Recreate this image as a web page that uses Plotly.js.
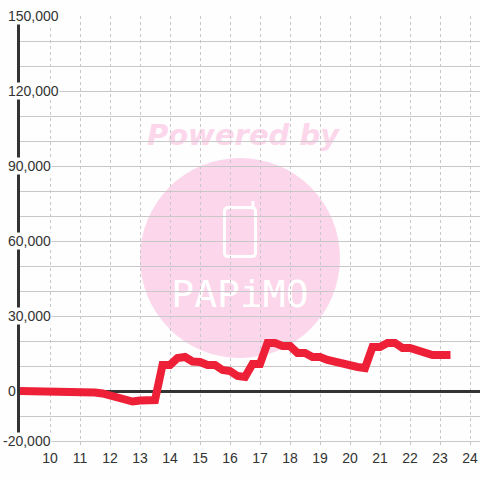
<!DOCTYPE html>
<html>
<head>
<meta charset="utf-8">
<script src="https://cdn.plot.ly/plotly-3.0.1.min.js"></script>
<style>
html,body{margin:0;padding:0;background:#fdfefd;}
#chart{width:480px;height:480px;}
</style>
</head>
<body>
<div id="chart"></div>
<script>
// ---- data ----
const hours = [9,9.25,9.5,9.75,10,10.25,10.5,10.75,11,11.25,11.5,11.75,12,12.25,12.5,12.75,13,13.25,13.5,13.75,14,14.25,14.5,14.75,15,15.25,15.5,15.75,16,16.25,16.5,16.75,17,17.25,17.5,17.75,18,18.25,18.5,18.75,19,19.25,19.5,19.75,20,20.25,20.5,20.75,21,21.25,21.5,21.75,22,22.25,22.5,22.75,23,23.35];
const balance = [0,0,0,0,0,0,0,0,0,-300,-600,-1000,-1800,-2400,-2800,-4200,-3800,-3600,-3600,10400,10400,13200,13600,11800,11600,10400,10400,8400,8000,6000,5600,10800,10800,19200,19200,18000,18000,15200,15200,13600,13600,12400,11600,10400,10000,9600,9200,17600,17600,19200,19200,17200,17200,16000,15600,14400,14400,14400];
const xTickVals = [10,11,12,13,14,15,16,17,18,19,20,21,22,23,24];
const xTickText = ['10','11','12','13','14','15','16','17','18','19','20','21','22','23','24'];
const yTickVals = [150000,120000,90000,60000,30000,0,-20000];
const yTickText = ['150,000','120,000','90,000','60,000','30,000','0','-20,000'];
const watermarkTitle = 'Powered by';
const watermarkBrand = 'PAPiMO';

// ---- layout helpers (pixel -> paper) ----
const BG = '#fdfefd';
const L = 20, R = 480, T = 16, B = 448;
const px = x => (x - L) / (R - L);
const py = y => (B - y) / (B - T);
const INK = '#333333';
const FONT = 'Liberation Sans, Arial, sans-serif';

function roundRectPath(x0, y0, x1, y1, r) {
  const p = (x, y) => px(x) + ',' + py(y);
  return 'M' + p(x0 + r, y0) + ' L' + p(x1 - r, y0) + ' Q' + p(x1, y0) + ' ' + p(x1, y0 + r) +
    ' L' + p(x1, y1 - r) + ' Q' + p(x1, y1) + ' ' + p(x1 - r, y1) +
    ' L' + p(x0 + r, y1) + ' Q' + p(x0, y1) + ' ' + p(x0, y1 - r) +
    ' L' + p(x0, y0 + r) + ' Q' + p(x0, y0) + ' ' + p(x0 + r, y0) + ' Z';
}

const trace = {
  x: hours,
  y: balance,
  type: 'scatter',
  mode: 'lines',
  line: {color: '#ee2037', width: 8},
  hoverinfo: 'skip'
};

const annotations = yTickVals.map((v, i) => ({
  xref: 'paper', x: 0, xanchor: 'left',
  xshift: yTickText[i].startsWith('-') ? -18 : -13,
  yref: 'y', y: v, yanchor: 'middle',
  text: yTickText[i], showarrow: false,
  bgcolor: BG, borderpad: 0,
  font: {family: FONT, size: 14, color: INK}
}));

const shapes = [
  {type: 'circle', xref: 'paper', yref: 'paper', layer: 'below',
   x0: px(140), x1: px(340), y0: py(358), y1: py(158),
   fillcolor: '#fcd6eb', line: {width: 0}},
  {type: 'rect', xref: 'paper', yref: 'paper', layer: 'below',
   x0: px(133), x1: px(353), y0: py(150), y1: py(116),
   fillcolor: 'rgba(0,0,0,0)', line: {width: 0},
   label: {text: watermarkTitle, textposition: 'middle center',
     font: {family: 'DejaVu Sans', size: 29, color: '#fcd6eb', weight: 'bold', style: 'italic'}}},
  {type: 'path', xref: 'paper', yref: 'paper', layer: 'below',
   path: roundRectPath(224.5, 207.5, 255.5, 256.5, 4),
   fillcolor: 'rgba(0,0,0,0)', line: {color: '#ffffff', width: 3}},
  {type: 'path', xref: 'paper', yref: 'paper', layer: 'below',
   path: 'M' + px(253) + ',' + py(209) + ' L' + px(253) + ',' + py(201),
   line: {color: '#ffffff', width: 3}},
  {type: 'rect', xref: 'paper', yref: 'paper', layer: 'below',
   x0: px(160), x1: px(320), y0: py(310), y1: py(272),
   fillcolor: 'rgba(0,0,0,0)', line: {width: 0},
   label: {text: watermarkBrand, textposition: 'middle center',
     font: {family: 'DejaVu Sans Mono', size: 38, color: '#ffffff'}}}
];

const layout = {
  width: 480, height: 480,
  margin: {l: L, r: 480 - R, t: T, b: 480 - B, pad: 0},
  paper_bgcolor: BG, plot_bgcolor: BG,
  showlegend: false,
  xaxis: {
    range: [9, 24 + (R - 470) / 30],
    tickvals: xTickVals, ticktext: xTickText,
    ticks: '', ticklabelstandoff: 0,
    tickfont: {family: FONT, size: 14, color: INK},
    showgrid: true, gridcolor: '#c8c8c8', gridwidth: 1, griddash: '3px,3px',
    zeroline: false, showline: false, fixedrange: true
  },
  yaxis: {
    range: [-22800, 150000],
    tick0: 0, dtick: 10000,
    showticklabels: false, ticks: '',
    showgrid: true, gridcolor: '#c8c8c8', gridwidth: 1,
    zeroline: true, zerolinecolor: INK, zerolinewidth: 3,
    showline: true, linecolor: INK, linewidth: 3, mirror: false,
    fixedrange: true
  },
  shapes: shapes,
  annotations: annotations
};

Plotly.newPlot('chart', [trace], layout, {displayModeBar: false, staticPlot: true});
</script>
</body>
</html>
